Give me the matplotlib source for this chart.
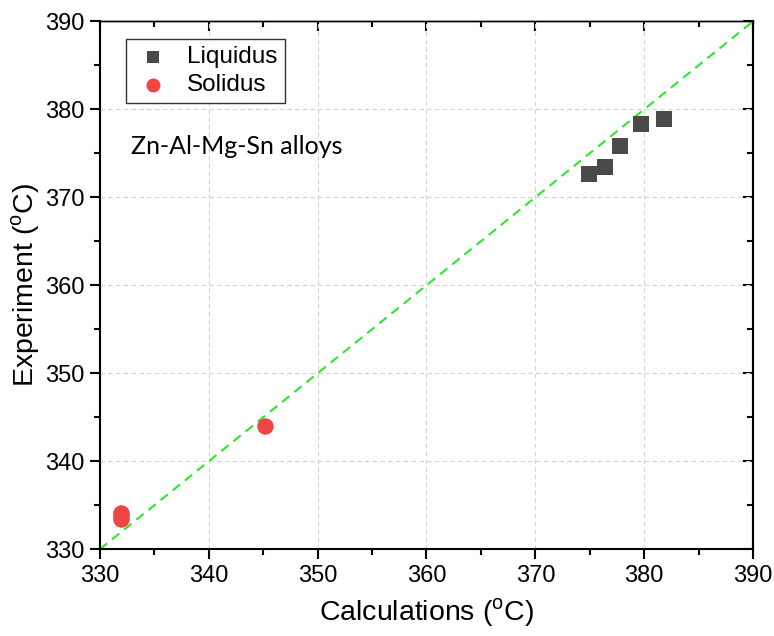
import matplotlib
matplotlib.use("Agg")
import matplotlib.pyplot as plt
from matplotlib.ticker import MultipleLocator

plt.rcParams["font.family"] = ["Liberation Sans", "DejaVu Sans"]
plt.rcParams["mathtext.fontset"] = "custom"
plt.rcParams["mathtext.rm"] = "Liberation Sans"

# datos
liq_calc = [374.9, 376.4, 377.8, 379.7, 381.8]
liq_exp = [372.6, 373.4, 375.8, 378.3, 378.9]
sol_calc = [331.9, 331.9, 331.9, 345.2]
sol_exp = [334.1, 333.8, 333.5, 344.0]
diag = [330, 390]

fig = plt.figure(figsize=(7.74, 6.36), dpi=100)
ax = fig.add_axes([0.129, 0.1363, 0.844, 0.8302])

ax.plot(diag, diag, color="#2ee62e", ls=(0, (4.5, 3)), lw=1.5, zorder=2)
ax.scatter(liq_calc, liq_exp, marker="s", s=120, color="#4a4a4a",
           label="Liquidus", zorder=3, linewidths=0)
ax.scatter(sol_calc, sol_exp, marker="o", s=140, color="#f04545",
           label="Solidus", zorder=3, linewidths=0)

ax.set_xlim(330, 390)
ax.set_ylim(330, 390)
ax.xaxis.set_major_locator(MultipleLocator(10))
ax.yaxis.set_major_locator(MultipleLocator(10))
ax.xaxis.set_minor_locator(MultipleLocator(5))
ax.yaxis.set_minor_locator(MultipleLocator(5))
# abajo/izquierda hacia fuera, arriba/derecha hacia dentro
ax.tick_params(which="both", direction="out", width=1.5, labelsize=17)
ax.tick_params(which="major", length=7, pad=4)
ax.tick_params(which="minor", length=4)

ax_top = ax.secondary_xaxis("top")
ax_top.xaxis.set_major_locator(MultipleLocator(10))
ax_top.xaxis.set_minor_locator(MultipleLocator(5))
ax_right = ax.secondary_yaxis("right")
ax_right.yaxis.set_major_locator(MultipleLocator(10))
ax_right.yaxis.set_minor_locator(MultipleLocator(5))
for a in (ax_top, ax_right):
    a.tick_params(which="both", direction="in", width=1.5, labelleft=False,
                  labelright=False, labeltop=False, labelbottom=False)
    a.tick_params(which="major", length=7)
    a.tick_params(which="minor", length=4)
ax_top.spines["top"].set_linewidth(1.0)
ax_right.spines["right"].set_linewidth(1.5)
for s in ax.spines.values():
    s.set_linewidth(1.5)
ax.spines["top"].set_linewidth(1.0)
ax.grid(True, ls=(0, (4, 3)), lw=0.8, color="#d2d2d2")
ax.set_axisbelow(True)

ax.set_xlabel(r"Calculations ($^\mathrm{o}$C)", fontsize=20.5, labelpad=7)
ax.set_ylabel(r"Experiment ($^\mathrm{o}$C)", fontsize=20.5, labelpad=2)

ax.text(0.047, 0.748, "Zn-Al-Mg-Sn alloys", transform=ax.transAxes,
        fontsize=18, family=["Lato", "DejaVu Sans"])

leg = ax.legend(loc="upper left", bbox_to_anchor=(0.022, 0.99), fontsize=17.5,
                frameon=True, fancybox=False, edgecolor="black",
                handletextpad=0.6, handlelength=1.6, borderpad=0.3,
                labelspacing=0.25, markerscale=0.85)
leg.get_frame().set_linewidth(1.0)

fig.savefig("out.png", dpi=100)
